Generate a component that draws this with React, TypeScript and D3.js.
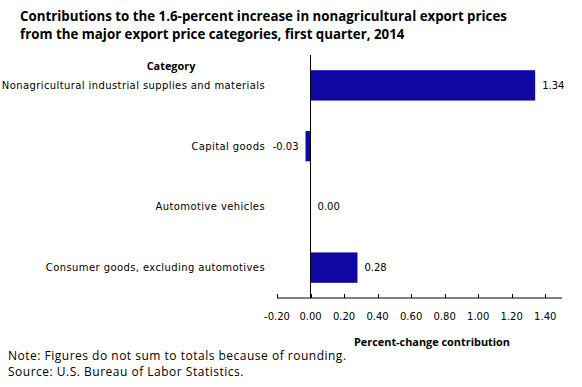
import * as d3 from "d3";

const categories = [
  "Nonagricultural industrial supplies and materials",
  "Capital goods",
  "Automotive vehicles",
  "Consumer goods, excluding automotives",
];
const values = [1.34, -0.03, 0.0, 0.28];
const tickValues = [-0.2, 0, 0.2, 0.4, 0.6, 0.8, 1.0, 1.2, 1.4];

const titleLines = [
  "Contributions to the 1.6-percent increase in nonagricultural export prices",
  "from the major export price categories, first quarter, 2014",
];
const notes = [
  "Note: Figures do not sum to totals because of rounding.",
  "Source: U.S. Bureau of Labor Statistics.",
];

const W = 582;
const H = 387;
const BAR = "#1107a4";
const FONT = "'DejaVu Sans', Verdana, sans-serif";

export default function App() {
  const x = d3.scaleLinear().domain([-0.2, 1.5]).range([277, 562]);
  const y = d3
    .scaleBand()
    .domain(categories)
    .range([55, 298])
    .paddingInner(0.5)
    .paddingOuter(0.25);
  const x0 = x(0);
  const axisY = 298;

  return (
    <svg
      width={W}
      height={H}
      style={{ position: "absolute", left: 0, top: 0, background: "#fff" }}
    >
      {titleLines.map((t, i) => (
        <text
          key={t}
          x={20}
          y={21 + i * 18}
          fontFamily="'Open Sans', sans-serif"
          fontWeight="bold"
          fontSize={13.3}
          fill="#000"
        >
          {t}
        </text>
      ))}

      <text
        x={171}
        y={70}
        textAnchor="middle"
        fontFamily="'Open Sans', sans-serif"
        fontWeight="bold"
        fontSize={10.9}
      >
        Category
      </text>

      {categories.map((c, i) => {
        const cy = y(c)! + y.bandwidth() / 2;
        const v = values[i];
        const x1 = x(Math.min(0, v));
        const w = Math.abs(x(v) - x0);
        return (
          <g key={c}>
            <text
              x={265}
              y={cy}
              dy="0.35em"
              textAnchor="end"
              fontFamily={FONT}
              fontSize={10}
              letterSpacing={0.4}
            >
              {c}
            </text>
            {w > 0 && (
              <rect x={x1} y={y(c)!} width={w} height={y.bandwidth()} fill={BAR} />
            )}
            <text
              x={v < 0 ? x(v) - 7 : x(v) + 7}
              y={cy}
              dy="0.35em"
              textAnchor={v < 0 ? "end" : "start"}
              fontFamily={FONT}
              fontSize={10}
            >
              {v.toFixed(2)}
            </text>
          </g>
        );
      })}

      <line x1={x0} x2={x0} y1={55} y2={axisY} stroke="#000" />
      <line x1={277} x2={562} y1={axisY} y2={axisY} stroke="#000" />
      {tickValues.map((t) => (
        <g key={t}>
          <line
            x1={Math.round(x(t)) + 0.5}
            x2={Math.round(x(t)) + 0.5}
            y1={axisY - 4}
            y2={axisY}
            stroke="#000"
          />
          <text
            x={x(t)}
            y={320}
            textAnchor="middle"
            fontFamily={FONT}
            fontSize={10}
          >
            {t.toFixed(2)}
          </text>
        </g>
      ))}

      <text
        x={432}
        y={346}
        textAnchor="middle"
        fontFamily="'Open Sans', sans-serif"
        fontWeight="bold"
        fontSize={10.9}
      >
        Percent-change contribution
      </text>

      {notes.map((n, i) => (
        <text
          key={n}
          x={8}
          y={360 + i * 16}
          fontFamily="'Open Sans', sans-serif"
          fontSize={12}
          letterSpacing={0.5}
        >
          {n}
        </text>
      ))}
    </svg>
  );
}
